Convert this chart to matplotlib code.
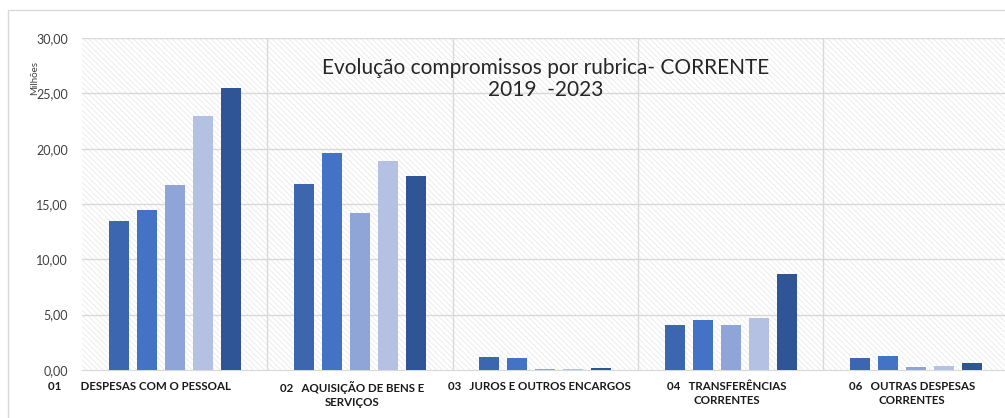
import matplotlib.pyplot as plt
from matplotlib.patches import Rectangle
import numpy as np

plt.rcParams['font.family'] = ['Lato', 'DejaVu Sans']
plt.rcParams['hatch.linewidth'] = 0.6

categories = ["01       DESPESAS COM O PESSOAL",
              "02   AQUISIÇÃO DE BENS E\nSERVIÇOS",
              "03   JUROS E OUTROS ENCARGOS",
              "04   TRANSFERÊNCIAS\nCORRENTES",
              "06   OUTRAS DESPESAS\nCORRENTES"]
years = ["2019", "2020", "2021", "2022", "2023"]
values = {
    "2019": [13.46, 16.80, 1.20, 4.10, 1.10],
    "2020": [14.50, 19.60, 1.10, 4.50, 1.30],
    "2021": [16.70, 14.20, 0.10, 4.10, 0.30],
    "2022": [22.95, 18.85, 0.10, 4.70, 0.40],
    "2023": [25.47, 17.50, 0.15, 8.65, 0.60],
}
colors = ["#3D66B0", "#4472C4", "#8FA5D8", "#B5C1E3", "#2F5597"]

fig = plt.figure(figsize=(10.05, 4.18), dpi=100)
fig.patches.append(Rectangle((0.008, -0.1), 1.1, 1.075, transform=fig.transFigure,
                             fill=False, edgecolor='#D9D9D9', linewidth=1))
ax = fig.add_axes([0.0816, 0.115, 0.922, 0.794])

# hatched background of the plot area
ax.add_patch(Rectangle((0, 0), 1, 1, transform=ax.transAxes, facecolor='white',
                       edgecolor='#EAEAEA', linewidth=0, hatch='\\' * 6, zorder=0))

x = np.arange(len(categories))
step = 0.151
width = 0.108
for i, y in enumerate(years):
    ax.bar(x + (i - 2) * step, values[y], width, color=colors[i], zorder=3)

ax.set_xlim(-0.5, 4.5)
ax.set_ylim(0, 30)
ax.set_yticks(np.arange(0, 31, 5))
ax.set_yticklabels([f"{v:.2f}".replace('.', ',') for v in np.arange(0, 31, 5)],
                   fontsize=9, color='#404040')
label_shift = [-0.19, -0.04, -0.03, -0.02, -0.02]
ax.set_xticks(x + np.array(label_shift))
ax.set_xticklabels(categories, fontsize=8.3, fontweight='bold', color='#1A1A1A',
                   linespacing=1.35)
ax.tick_params(length=0, pad=8)
ax.tick_params(axis='y', pad=10)

for v in np.arange(5, 31, 5):
    ax.axhline(v, color='#D9D9D9', linewidth=1, zorder=1)
for b in np.arange(0.5, 4.5, 1):
    ax.axvline(b, color='#D9D9D9', linewidth=1, zorder=1)

for s in ['top', 'right', 'left']:
    ax.spines[s].set_visible(False)
ax.spines['bottom'].set_color('#D9D9D9')

ax.set_ylabel("Milhões", fontsize=7, color='#404040')
ax.yaxis.set_label_coords(-0.046, 0.88)

ax.text(0.5, 0.94, "Evolução compromissos por rubrica- CORRENTE\n2019  -2023",
        transform=ax.transAxes, ha='center', va='top', fontsize=15,
        color='#262626', linespacing=1.15, zorder=4)

fig.savefig("out.png", dpi=100)
